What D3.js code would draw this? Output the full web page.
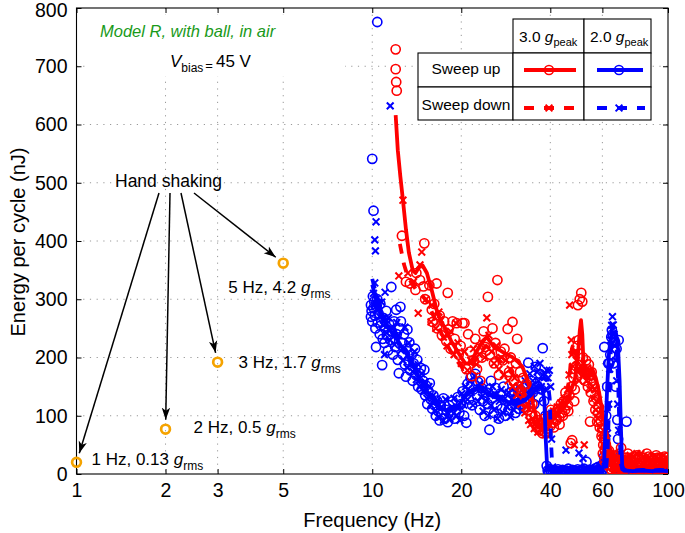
<!DOCTYPE html>
<html>
<head>
<meta charset="utf-8">
<script src="https://cdn.jsdelivr.net/npm/d3@7"></script>
<style>
  body { margin: 0; background: #fff; }
  svg { display: block; font-family: "Liberation Sans", Arial, Helvetica, sans-serif; }
</style>
</head>
<body>
<svg id="chart" width="685" height="533"></svg>
<script>
// Energy per cycle vs frequency - Model R, with ball, in air
(function() {
  'use strict';

  // ---- data ----
  const xTicks = [1, 2, 3, 5, 10, 20, 40, 60, 100];
  const yTicks = [0, 100, 200, 300, 400, 500, 600, 700, 800];

  // hand shaking points
  const handF = [1, 2, 3, 5];
  const handE = [20, 77, 192, 362];
  const handLabel = ['1 Hz, 0.13 ', '2 Hz, 0.5 ', '3 Hz, 1.7 ', '5 Hz, 4.2 '];

  // 3.0 g peak, sweep up (circles) [Hz, nJ]
  const redUp = [
    [12.0,729],[12.0,695],[12.05,673],[12.1,658],[12.6,409],[15.0,396],
    [13.0,330],[13.4,327],[14.0,316],[14.5,333],[14.1,345],[14.9,322],[15.6,324],[16.5,327],[18.0,311],
    [15.1,300],[15.9,282],[16.0,261],[16.2,292],[16.6,250],[16.9,272],[17.2,238],[17.5,262],[17.8,228],
    [18.1,248],[18.4,215],[18.7,262],[19.0,232],[19.3,259],[19.6,205],[19.9,220],[20.2,259],[20.5,259],
    [20.8,180],[21.1,240],[21.4,210],[21.7,168],[22.0,195],[22.3,232],[22.6,180],[22.9,215],[23.2,160],
    [23.5,200],[23.8,245],[24.1,218],[24.6,304],[25.0,205],[25.5,250],[25.8,190],[26.1,225],[26.5,333],
    [26.8,170],[27.2,210],[27.6,195],[28.0,215],[28.7,249],[29.0,175],[29.4,200],[29.8,261],[30.2,160],
    [30.6,190],[30.9,232],[31.2,150],[31.6,175],[32.0,140],[32.4,165],[32.8,125],[33.2,155],[33.6,110],
    [34.0,140],[34.4,100],[34.8,120],[35.2,88],[35.6,100],[36.0,80],[36.4,92],[36.8,75],[37.2,85],
    [37.6,70],[38.0,80],[38.4,72],[38.8,88],[39.2,78],[39.6,92],[40.0,82],[40.4,100],[40.9,88],[41.4,105],
    [41.9,92],[42.4,112],[42.9,98],[43.4,120],[43.9,105],[44.4,125],[44.9,110],[45.4,130],[45.9,118],
    [46.4,135],[46.9,53],[47.4,58],[47.9,165],[48.4,145],[48.9,185],[49.4,220],[49.6,290],[49.9,230],
    [50.3,300],[50.9,311],[51.3,296],[51.6,200],[52.0,175],[52.4,160],[52.8,195],[53.2,180],[53.6,150],
    [54.0,188],[54.5,90],[54.4,170],[54.8,140],[55.2,175],[55.6,155],[56.0,125],[56.4,150],[56.8,110],
    [57.2,130],[57.6,90],[58.0,105],[58.4,115],[58.8,80],[59.2,92],[59.6,65],[60.0,78],[60.4,50],
    [60.8,60],[61.2,40],[61.6,48],[62.0,30],[62.5,38],[63.0,22],[63.5,30],[64.0,15],[64.5,25],[65.0,12],
    [65.6,20],[66.2,8],[66.8,30],[67.4,15],[68.0,22],[68.7,10],[69.4,45],[70.0,18],[70.8,8],[71.6,28],
    [72.4,12],[73.2,35],[74.0,15],[74.8,6],[75.6,22],[76.4,12],[77.2,30],[78.0,8],[78.8,18],[79.6,25],
    [80.4,10],[81.2,20],[82.0,6],[82.8,28],[83.6,14],[84.4,22],[85.2,8],[86.0,30],[86.8,12],[87.6,18],
    [88.4,6],[89.2,25],[90.0,14],[90.8,20],[91.6,8],[92.4,28],[93.2,12],[94.0,18],[94.8,5],[95.6,24],
    [96.4,10],[97.2,30],[98.0,15],[98.8,8],[99.5,20],
    [38.2,95],[39.0,70],[40.2,110],[41.1,80],[42.0,95],[43.0,85],[44.1,100],[45.0,140],[46.0,108],
    [47.2,150],[48.2,125],
    [60.2,35],[61.0,22],[62.2,15],[63.2,40],[64.2,8],[65.3,32],[66.5,18],[67.7,5],[68.4,35],[69.8,25],
    [71.2,15],[72.8,5],[73.6,20],[75.2,28],[76.8,5],[78.4,32],[80.0,15],[81.6,28],[83.2,5],[84.8,35],
    [86.4,18],[88.0,28],[89.6,10],[91.2,32],[92.8,18],[94.4,28],[96.0,18],[97.6,5],[99.2,28]
  ];

  // 3.0 g peak, sweep down (crosses)
  const redDown = [
    [12.7,470],[14.7,381],[14.5,359],[12.3,340],[14.3,276],[16.8,278],[15.8,261],[19.2,259],[24.4,268],
    [13.2,345],[13.8,330],[15.2,300],[15.9,290],[16.4,250],[17.0,265],[17.4,235],[17.9,220],[18.4,245],
    [18.9,205],[19.5,225],[20.0,190],[20.5,210],[21.0,178],[21.5,195],[22.0,215],[22.5,188],[23.0,205],
    [23.5,225],[24.0,200],[24.8,238],[25.3,210],[25.8,190],[26.3,220],[26.8,180],[27.3,200],[27.8,170],
    [28.3,195],[28.8,160],[29.3,180],[29.8,150],[30.3,165],[30.8,135],[31.3,150],[31.8,120],[32.3,135],
    [32.8,105],[33.3,115],[33.8,92],[34.3,85],[34.8,95],[35.3,78],[35.8,88],[36.3,72],[36.8,82],
    [37.3,76],[37.8,90],[38.3,80],[38.8,95],[39.3,85],[39.8,100],[40.4,90],[41.0,108],[41.6,96],
    [42.2,115],[42.8,102],[43.4,122],[44.0,110],[44.6,130],[45.2,118],[45.8,145],[46.3,170],[46.5,290],
    [47.1,230],[47.3,205],[47.7,185],[48.2,50],[48.6,210],[49.0,195],[49.5,175],[50.0,160],[50.5,185],
    [52.1,50],[51.5,170],[52.0,190],[52.5,175],[53.0,160],[53.5,182],[54.0,165],[54.5,145],[55.0,170],
    [55.5,150],[56.0,130],[56.5,145],[57.0,110],[57.5,125],[58.0,95],[58.5,105],[59.0,80],[59.5,70],
    [60.0,62],[60.5,50],[61.0,42],[61.5,35],[62.0,28],[62.6,22],[63.2,32],[63.8,15],[64.4,24],[65.0,10],
    [65.7,18],[66.4,28],[67.1,8],[67.8,20],[68.6,12],[69.4,25],[70.2,6],[71,18],[72,28],[73,10],[74,20],
    [75,8],[76,30],[77,14],[78,6],[79,22],[80,12],[81,35],[82,8],[83,18],[84,26],[85,10],[86,5],[87,20],
    [88,14],[89,28],[90,8],[91,18],[92,12],[93,25],[94,6],[95,16],[96,22],[97,10],[98,28],[99,14],
    [60.8,25],[62.3,48],[64.0,35],[65.5,5],[67.5,30],[69.0,5],[70.6,28],[72.5,18],[74.5,32],[76.5,20],
    [78.5,35],[80.5,5],[82.5,28],[85.5,25],[87.5,8],[89.5,15],[91.5,30],[93.5,5],[95.5,28],[97.5,20],
    [99.5,5]
  ];

  // 2.0 g peak, sweep up (circles)
  const blueUp = [
    [10.4,776],[10.0,541],[10.1,452],
    [9.9,290],[9.9,270],[9.95,280],[10.0,262],[10.05,305],[10.1,285],[10.15,296],[10.2,272],[10.25,250],
    [10.3,218],[10.35,288],[10.4,300],[10.45,260],[10.5,276],[10.6,240],[10.65,292],[10.7,255],[10.8,187],
    [10.85,232],[10.9,268],[11.0,225],[11.05,250],[11.15,280],[11.2,238],[11.3,212],[11.4,258],[11.5,230],
    [11.6,321],[11.65,245],[11.75,205],[11.85,262],[11.95,218],[12.05,282],[12.1,240],[12.2,196],[12.3,173],
    [12.35,250],[12.45,287],[12.5,262],[12.6,225],[12.7,205],[12.8,240],[12.9,188],[13.0,167],[13.05,215],
    [13.15,248],[13.25,195],[13.35,226],[13.45,178],[13.6,205],[13.7,160],[13.8,190],[13.95,215],[14.05,170],
    [14.2,196],[14.3,150],[14.45,173],[14.6,182],[14.7,145],[14.85,160],[15.0,179],[15.1,135],[15.2,152],
    [15.35,120],[15.5,142],[15.65,156],[15.8,128],[15.95,112],[16.1,135],[16.25,118],[16.4,100],[16.55,126],
    [16.7,108],[16.9,92],[17.05,118],[17.2,102],[17.4,130],[17.6,95],[17.8,110],[18.0,89],[18.2,118],
    [18.45,100],[18.7,125],[18.95,95],[19.2,110],[19.45,132],[19.7,105],[19.95,120],[20.2,142],[20.45,100],
    [20.8,88],[21.0,155],[21.25,128],[21.5,165],[21.75,118],[22.0,145],[22.3,172],[22.55,135],[22.8,158],
    [23.1,110],[23.4,148],[23.7,125],[24.0,100],[24.3,140],[24.6,120],[24.9,76],[25.2,160],[25.5,130],
    [25.8,105],[26.1,148],[26.45,118],[26.8,95],[27.1,138],[27.45,112],[27.8,150],[28.15,100],[28.5,128],
    [28.9,110],[29.3,140],[29.7,118],[30.1,135],[30.5,105],[30.9,128],[31.3,112],[31.7,145],[32.1,120],
    [32.5,135],[32.9,115],[33.3,150],[33.7,191],[34.1,128],[34.5,160],[34.9,140],[35.3,120],[35.7,184],
    [36.1,150],[36.5,132],[36.9,172],[37.3,145],[37.7,216],[38.1,125],[38.5,100],
    [38.9,14],[39.2,6],[39.5,3],[39.8,8],[40.2,4],[40.6,7],[41.0,3],[41.5,6],[42.0,4],[42.5,8],[43.0,3],
    [43.5,5],[44.0,7],[44.5,3],[45.0,6],[45.5,4],[46.0,9],[46.5,5],[47.0,3],[47.5,7],[48.0,4],[48.5,6],
    [49.0,3],[49.5,8],[50.0,5],[50.5,3],[51.0,7],[51.5,4],[52.0,9],[52.5,5],[53.0,21],[53.5,4],[54.0,7],
    [54.5,3],[55.0,6],[55.5,4],[56.0,8],[56.5,5],[57.0,10],[57.5,4],[58.0,12],[58.5,6],[59.0,9],[59.5,14],
    [60.0,7],[60.4,18],[60.8,30],[60.9,218],[61.3,60],[61.8,100],[62.3,150],[62.8,190],[63.3,190],[63.8,205],
    [64.3,235],[64.6,247],[65.0,240],[65.4,190],[65.8,230],[66.2,226],[66.6,150],[67.0,215],[67.4,93],
    [67.8,60],[68.1,230],[68.3,28],[68.8,12],[69.3,6],[72.4,90],
    [70,4],[71,7],[72,3],[73,6],[74,4],[75,8],[76,3],[77,5],[78,7],[79,3],[80,6],[81,4],[82,8],[83,3],
    [84,5],[85,7],[86,3],[87,6],[88,4],[89,8],[90,3],[91,5],[92,7],[93,3],[94,6],[95,4],[96,8],[97,3],
    [98,5],[99,6]
  ];

  // 2.0 g peak, sweep down (crosses)
  const blueDown = [
    [11.5,632],[10.3,433],[10.2,402],[10.25,383],[10.2,328],[10.1,310],[10.15,290],[10.3,300],[10.45,282],
    [10.6,270],[10.75,295],[10.9,255],[11.05,312],[11.2,242],[11.35,268],[11.5,230],[11.0,205],[11.7,250],
    [11.9,222],[12.1,260],[12.3,238],[12.5,212],[12.7,195],[12.9,252],[13.1,183],[13.3,225],[13.5,200],
    [13.7,176],[13.9,210],[14.1,162],[14.3,188],[14.5,150],[14.7,172],[14.9,142],[15.1,158],[15.3,130],
    [15.55,150],[15.8,118],[16.05,135],[16.3,108],[16.55,125],[16.8,98],[17.1,115],[17.4,92],[17.7,128],
    [18.0,105],[18.3,95],[18.6,115],[18.9,130],[19.2,100],[19.5,112],[19.8,92],[20.1,138],[20.4,118],
    [20.7,150],[21.0,128],[21.3,160],[21.6,140],[21.9,118],[22.2,168],[22.5,145],[22.8,125],[23.1,155],
    [23.4,132],[23.7,108],[24.0,148],[24.3,125],[24.6,100],[24.9,140],[25.2,118],[25.5,150],[25.8,110],
    [26.1,135],[26.5,95],[26.9,125],[27.3,145],[27.7,105],[28.1,130],[28.5,115],[28.9,140],[29.3,98],
    [29.7,128],[30.1,110],[30.5,140],[30.9,120],[31.3,150],[31.7,125],[32.1,108],[32.5,140],[32.9,160],
    [33.3,130],[33.7,150],[34.1,172],[34.5,140],[34.9,160],[35.3,185],[35.7,150],[36.1,175],[36.5,160],
    [36.9,190],[37.3,150],[37.7,170],[38.1,173],[38.5,145],[38.9,178],[39.3,165],[39.7,178],[40.1,150],
    [40.4,60],[40.7,12],
    [41.2,4],[42.0,8],[42.8,5],[43.6,3],[44.4,7],[45.2,41],[46.0,5],[46.8,8],[47.6,4],[48.4,6],[49.2,3],
    [50.0,36],[50.8,6],[51.6,27],[52.4,8],[53.2,4],[54.0,6],[54.8,9],[55.6,5],[56.4,7],[57.2,4],[58.0,8],
    [58.8,5],[59.6,10],[60.4,7],[61.2,12],[61.8,30],[62.4,70],[63.0,120],[63.5,180],[64.0,230],[64.5,255],
    [64.9,270],[65.3,256],[65.7,240],[66.1,220],[66.6,195],[67.1,160],[67.6,120],[68.1,75],[68.6,35],
    [69.2,12],
    [70,6],[71.5,4],[73,8],[74.5,5],[76,3],[77.5,7],[79,4],[80.5,6],[82,9],[83.5,4],[85,6],[86.5,3],
    [88,7],[89.5,5],[91,4],[92.5,8],[94,5],[95.5,3],[97,6],[98.5,4]
  ];

  // smoothed lines
  const redUpLine = [
    [12.0,616],[12.2,556],[12.45,510],[12.7,470],[13.0,420],[13.3,380],[13.7,350],[14.0,345],[14.4,355],
    [14.8,358],[15.3,345],[15.9,315],[16.5,282],[17.1,262],[17.8,247],[18.5,228],[19.3,213],[20.0,200],
    [20.6,190],[21.3,190],[22.0,200],[22.8,215],[23.6,228],[24.4,235],[25.2,225],[26.0,216],[26.9,213],
    [28.3,206],[29.7,201],[31.0,193],[32.2,184],[33.1,168],[34.0,150],[35.0,120],[35.9,98],[36.7,86],
    [37.5,81],[38.5,85],[40,95],[42,105],[44,115],[46,128],[47.5,150],[48.5,165],[49.5,200],[50.3,245],
    [50.8,264],[51.3,240],[51.8,190],[52.8,165],[54,170],[55.5,180],[57,165],[58.5,140],[60,105],
    [61.5,78],[63,55],[64.5,30],[66,12],[68,6],[72,5],[76,7],[80,5],[85,6],[90,5],[95,6],[100,5]
  ];
  const redDownLine = [
    [12.4,395],[12.8,360],[13.2,338],[14.0,318],[14.8,305],[15.4,295],[16.3,265],[17.2,240],[18.2,215],
    [19.3,195],[20.3,180],[21.3,182],[22.3,195],[23.3,210],[24.3,220],[25.3,212],[26.3,200],[27.5,190],
    [28.8,180],[30.0,170],[31.5,158],[32.5,140],[33.5,118],[34.5,98],[35.5,85],[36.5,80],[37.5,80],
    [38.5,88],[40,98],[42,108],[44,118],[45.5,135],[46.5,170],[47.3,215],[48.0,225],[48.8,205],
    [49.8,185],[51.0,175],[52.5,172],[54,180],[55.5,175],[57,160],[58.5,135],[60,100],[61.5,70],
    [63,45],[64.5,25],[66,12],[68,6],[72,5],[80,6],[90,5],[100,6]
  ];
  const blueUpLine = [
    [10.0,325],[10.3,300],[10.7,275],[11.1,258],[11.6,245],[12.1,232],[12.6,218],[13.1,205],[13.6,190],
    [14.1,175],[14.6,160],[15.2,145],[15.8,132],[16.5,120],[17.3,112],[18.1,108],[19.0,112],[19.9,122],
    [20.8,135],[21.8,145],[22.8,148],[23.8,142],[24.8,136],[26,132],[27.3,128],[28.6,124],[30,120],
    [31.5,122],[33,128],[34.5,136],[35.8,145],[36.8,150],[37.6,148],[38.2,125],[38.6,60],[39.0,15],
    [39.6,7],[42,5],[46,6],[50,5],[54,6],[58,5],[60,7],[60.8,20],[61.5,80],[62.3,150],[63.2,210],
    [64.3,238],[65.5,242],[66.8,238],[67.8,215],[68.6,160],[69.3,80],[70,15],[71,6],[76,5],[82,6],
    [88,5],[94,6],[100,5]
  ];
  const blueDownLine = [
    [10.0,335],[10.3,310],[10.7,285],[11.1,265],[11.6,250],[12.1,238],[12.6,224],[13.1,210],[13.6,195],
    [14.1,180],[14.6,165],[15.2,150],[15.8,137],[16.5,125],[17.3,116],[18.1,112],[19.0,116],[19.9,126],
    [20.8,138],[21.8,148],[22.8,152],[23.8,146],[24.8,140],[26,136],[27.3,132],[28.6,128],[30,125],
    [31.5,128],[33,135],[34.5,145],[35.8,155],[37,162],[38.2,165],[39.2,160],[39.8,130],[40.2,60],
    [40.6,12],[41.5,6],[45,7],[50,6],[55,7],[60,6],[61.8,10],[62.5,40],[63.2,120],[63.9,200],[64.6,248],
    [65.4,258],[66.2,250],[67,220],[67.8,160],[68.5,80],[69.2,20],[70,8],[76,6],[82,7],[88,6],[94,7],
    [100,6]
  ];

  // ---- layout ----
  const L = 76.5, R = 668, T = 8, B = 474;
  const RED = '#ff0000', BLUE = '#0000ff', ORANGE = '#f5a300', GREEN = '#1a9a1a';

  const svg = d3.select('#chart');
  const x = d3.scaleLog().domain([1, 100]).range([L, R]);
  const y = d3.scaleLinear().domain([0, 800]).range([B, T]);

  svg.append('defs').append('clipPath').attr('id', 'plotClip')
    .append('rect').attr('x', L).attr('y', T).attr('width', R - L).attr('height', B - T);

  // Grid
  const grid = svg.append('g')
    .attr('stroke', '#999')
    .attr('stroke-width', 1)
    .attr('stroke-dasharray', '1.2,5.5');
  grid.selectAll('line.gx')
    .data(xTicks.filter(d => d > 1 && d < 100))
    .join('line')
    .attr('x1', d => x(d)).attr('x2', d => x(d))
    .attr('y1', T).attr('y2', B);
  grid.selectAll('line.gy')
    .data(yTicks.filter(d => d > 0 && d < 800))
    .join('line')
    .attr('x1', L).attr('x2', R)
    .attr('y1', d => y(d)).attr('y2', d => y(d));

  // White background behind the title notes
  svg.append('rect').attr('x', 88).attr('y', 15).attr('width', 257).attr('height', 61).attr('fill', '#fff');

  // Axes (inward ticks)
  const fmt = d3.format('d');
  const xAxis = svg.append('g').attr('transform', `translate(0,${B})`)
    .call(d3.axisBottom(x).tickValues(xTicks).tickFormat(fmt).tickSizeInner(-5).tickSizeOuter(0).tickPadding(9));
  const xTop = svg.append('g').attr('transform', `translate(0,${T})`)
    .call(d3.axisTop(x).tickValues(xTicks).tickFormat('').tickSizeInner(-5).tickSizeOuter(0));
  const yAxis = svg.append('g').attr('transform', `translate(${L},0)`)
    .call(d3.axisLeft(y).tickValues(yTicks).tickFormat(fmt).tickSizeInner(-5).tickSizeOuter(0).tickPadding(9));
  const yRight = svg.append('g').attr('transform', `translate(${R},0)`)
    .call(d3.axisRight(y).tickValues(yTicks).tickFormat('').tickSizeInner(-5).tickSizeOuter(0));
  [xAxis, xTop, yAxis, yRight].forEach(a => {
    a.select('.domain').remove();
    a.selectAll('.tick line').attr('stroke', '#000');
    a.selectAll('text')
      .attr('font-size', '19.5px')
      .attr('font-family', '"Liberation Sans", Arial, Helvetica, sans-serif')
      .attr('fill', '#000');
  });
  // keep the top label inside the page
  yAxis.selectAll('.tick').filter(d => d === 800).select('text').attr('dy', '0.45em');

  svg.append('rect')
    .attr('x', L).attr('y', T).attr('width', R - L).attr('height', B - T)
    .attr('fill', 'none').attr('stroke', '#000').attr('stroke-width', 1.1);

  // Axis titles
  svg.append('text')
    .attr('x', (L + R) / 2).attr('y', 527)
    .attr('text-anchor', 'middle').attr('font-size', '20px')
    .text('Frequency (Hz)');
  svg.append('text')
    .attr('transform', 'translate(25,242) rotate(-90)')
    .attr('text-anchor', 'middle').attr('font-size', '20px')
    .text('Energy per cycle (nJ)');

  // ---- data marks ----
  const plot = svg.append('g').attr('clip-path', 'url(#plotClip)');
  const line = d3.line().x(d => x(d[0])).y(d => y(d[1]));
  const crossPath = 'M-3.4,-3.4L3.4,3.4M-3.4,3.4L3.4,-3.4';

  function drawCircles(data, color) {
    plot.append('g').selectAll('circle')
      .data(data)
      .join('circle')
      .attr('cx', d => x(d[0]))
      .attr('cy', d => y(d[1]))
      .attr('r', 4.6)
      .attr('fill', 'none')
      .attr('stroke', color)
      .attr('stroke-width', 1.6);
  }
  function drawCrosses(data, color) {
    plot.append('g').selectAll('path')
      .data(data)
      .join('path')
      .attr('d', crossPath)
      .attr('transform', d => `translate(${x(d[0])},${y(d[1])})`)
      .attr('fill', 'none')
      .attr('stroke', color)
      .attr('stroke-width', 2);
  }
  function drawLine(data, color, dashed) {
    plot.append('path')
      .datum(data)
      .attr('d', line)
      .attr('fill', 'none')
      .attr('stroke', color)
      .attr('stroke-width', 3.8)
      .attr('stroke-linejoin', 'round')
      .attr('stroke-dasharray', dashed ? '10,9' : null);
  }

  drawCircles(blueUp, BLUE);
  drawCrosses(blueDown, BLUE);
  drawCircles(redUp, RED);
  drawCrosses(redDown, RED);
  drawLine(redDownLine, RED, true);
  drawLine(redUpLine, RED, false);
  drawLine(blueDownLine, BLUE, true);
  drawLine(blueUpLine, BLUE, false);

  // ---- annotations ----
  function subText(sel, prefix, sub, size, subSize) {
    sel.append('tspan').text(prefix);
    sel.append('tspan').attr('font-style', 'italic').text('g');
    sel.append('tspan').attr('font-size', subSize + 'px').attr('dy', size * 0.28).text(sub);
  }

  svg.append('text')
    .attr('x', 100).attr('y', 37)
    .attr('font-size', '16.5px').attr('font-style', 'italic')
    .attr('fill', GREEN)
    .text('Model R, with ball, in air');

  const vb = svg.append('text').attr('x', 170).attr('y', 67).attr('font-size', '17px');
  vb.append('tspan').attr('font-style', 'italic').text('V');
  vb.append('tspan').attr('font-size', '12px').attr('dy', 5).text('bias');
  vb.append('tspan').attr('font-size', '13px').attr('dy', -2).attr('dx', 2).text('=');
  vb.append('tspan').attr('dy', -3).attr('dx', 3).text('45 V');

  // Hand shaking
  svg.append('text')
    .attr('x', 115).attr('y', 187)
    .attr('font-size', '17.5px')
    .text('Hand shaking');

  const arrowStart = [[159, 193], [170, 193], [181, 193], [194, 193]];
  const labelOffset = [[15, 3], [28, 4], [21, 6], [-55, 30]];

  svg.select('defs').append('marker')
    .attr('id', 'arrowhead')
    .attr('viewBox', '0 -5 13 10')
    .attr('refX', 12).attr('refY', 0)
    .attr('markerWidth', 13).attr('markerHeight', 10)
    .attr('markerUnits', 'userSpaceOnUse')
    .attr('orient', 'auto')
    .append('path')
    .attr('d', 'M0,-4.2L12,0L0,4.2L3,0Z')
    .attr('fill', '#000');

  handF.forEach((f, i) => {
    const px = x(f), py = y(handE[i]);
    const [sx, sy] = arrowStart[i];
    const dx = px - sx, dy = py - sy, len = Math.hypot(dx, dy);
    const gap = 9.5;
    svg.append('line')
      .attr('x1', sx).attr('y1', sy)
      .attr('x2', px - dx / len * gap).attr('y2', py - dy / len * gap)
      .attr('stroke', '#000').attr('stroke-width', 1.5)
      .attr('marker-end', 'url(#arrowhead)');
  });

  svg.append('g').selectAll('circle')
    .data(handF.map((f, i) => [f, handE[i]]))
    .join('circle')
    .attr('cx', d => x(d[0]))
    .attr('cy', d => y(d[1]))
    .attr('r', 4.4)
    .attr('fill', 'none')
    .attr('stroke', ORANGE)
    .attr('stroke-width', 2.7);

  handF.forEach((f, i) => {
    const t = svg.append('text')
      .attr('x', x(f) + labelOffset[i][0])
      .attr('y', y(handE[i]) + labelOffset[i][1])
      .attr('font-size', '17px');
    subText(t, handLabel[i], 'rms', 17, 12);
  });

  // ---- legend table ----
  const lg = svg.append('g');
  const cell = (cx, cy, w, h) => lg.append('rect')
    .attr('x', cx).attr('y', cy).attr('width', w).attr('height', h)
    .attr('fill', '#fff').attr('stroke', '#000').attr('stroke-width', 1.1);
  const colX = [418, 513, 584, 651];
  const rowY = [19, 53, 87, 120];
  cell(colX[1], rowY[0], colX[2] - colX[1], rowY[1] - rowY[0]);
  cell(colX[2], rowY[0], colX[3] - colX[2], rowY[1] - rowY[0]);
  for (let r = 1; r < 3; r++) {
    for (let c = 0; c < 3; c++) {
      cell(colX[c], rowY[r], colX[c + 1] - colX[c], rowY[r + 1] - rowY[r]);
    }
  }

  const headers = ['3.0 ', '2.0 '];
  headers.forEach((h, i) => {
    const t = lg.append('text')
      .attr('x', colX[i + 1] + 6).attr('y', 42)
      .attr('font-size', '15.5px');
    subText(t, h, 'peak', 15.5, 11);
  });
  const rowNames = ['Sweep up', 'Sweep down'];
  rowNames.forEach((n, r) => {
    lg.append('text')
      .attr('x', (colX[0] + colX[1]) / 2 + 0.5)
      .attr('y', r === 0 ? 74 : 110)
      .attr('text-anchor', 'middle')
      .attr('font-size', '15.5px')
      .text(n);
  });

  const legendItems = [
    { color: RED, x1: 524, x2: 576, row: 0 },
    { color: BLUE, x1: 597, x2: 643, row: 0 },
    { color: RED, x1: 524, x2: 576, row: 1 },
    { color: BLUE, x1: 597, x2: 645, row: 1 }
  ];
  const legRowY = [70, 108];
  legendItems.forEach(it => {
    const ly = legRowY[it.row];
    const mx = it.color === RED ? 549 : 619;
    lg.append('line')
      .attr('x1', it.x1).attr('x2', it.x2).attr('y1', ly).attr('y2', ly)
      .attr('stroke', it.color).attr('stroke-width', 3.8)
      .attr('stroke-dasharray', it.row === 1 ? '10,10' : null);
    if (it.row === 0) {
      lg.append('circle').attr('cx', mx).attr('cy', ly).attr('r', 4.5)
        .attr('fill', 'none').attr('stroke', it.color).attr('stroke-width', 1.6);
    } else {
      lg.append('path').attr('d', crossPath)
        .attr('transform', `translate(${mx},${ly})`)
        .attr('fill', 'none').attr('stroke', it.color).attr('stroke-width', 2);
    }
  });
})();
</script>
</body>
</html>
